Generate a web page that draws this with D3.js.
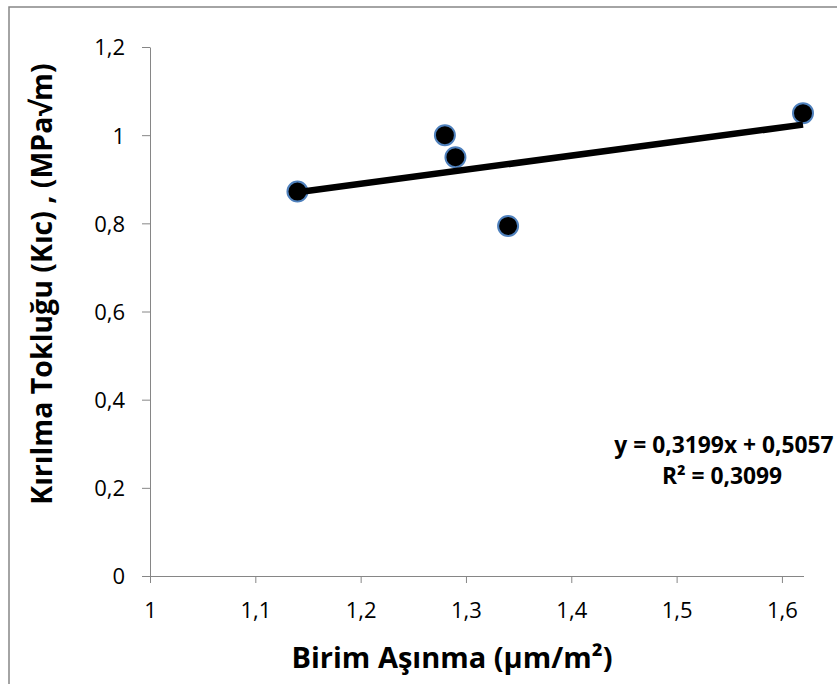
<!DOCTYPE html>
<html>
<head>
<meta charset="utf-8">
<script src="https://cdn.jsdelivr.net/npm/d3@7"></script>
<style>
  body { margin: 0; background: #fff; }
  svg text { font-family: "Open Sans", Lato, sans-serif; }
</style>
</head>
<body>
<svg id="chart" width="837" height="684"></svg>
<script>
// data
const wearValues = [1.14, 1.28, 1.29, 1.34, 1.62];
const toughnessValues = [0.872, 1.0, 0.95, 0.794, 1.05];
const xTicks = [1, 1.1, 1.2, 1.3, 1.4, 1.5, 1.6];
const yTicks = [0, 0.2, 0.4, 0.6, 0.8, 1, 1.2];
const trendSlope = 0.3199;
const trendIntercept = 0.5057;
const equationText = "y = 0,3199x + 0,5057";
const r2Text = "R² = 0,3099";

const points = wearValues.map((x, i) => ({ x: x, y: toughnessValues[i] }));

const svg = d3.select('#chart');
const axisColor = '#868686';
const fmt = d => String(d).replace('.', ',');

// outer chart border
svg.append('rect')
    .attr('x', 9).attr('y', 7)
    .attr('width', 840).attr('height', 690)
    .attr('fill', 'none')
    .attr('stroke', axisColor)
    .attr('stroke-width', 1.5);

const xscale = d3.scaleLinear().domain([1, 1.62]).range([150, 803]);
const yscale = d3.scaleLinear().domain([0, 1.2]).range([576, 47]);

// x axis
const xAxis = svg.append('g')
    .attr('transform', `translate(0, ${yscale(0)})`)
    .call(d3.axisBottom(xscale).tickValues(xTicks).tickFormat(fmt).tickSize(7).tickSizeOuter(0));
xAxis.select('.domain').attr('stroke', axisColor).attr('d', `M142,0.5H${xscale(1.62) + 1}`);
xAxis.selectAll('.tick line').attr('stroke', axisColor);
xAxis.selectAll('.tick text')
    .attr('fill', '#000')
    .attr('y', 26)
    .attr('dy', '0.72em')
    .style('font-size', '22px');

// y axis
const yAxis = svg.append('g')
    .attr('transform', `translate(${xscale(1)}, 0)`)
    .call(d3.axisLeft(yscale).tickValues(yTicks).tickFormat(fmt).tickSize(8).tickSizeOuter(0));
yAxis.select('.domain').attr('stroke', axisColor);
yAxis.selectAll('.tick line').attr('stroke', axisColor);
yAxis.selectAll('.tick text')
    .attr('fill', '#000')
    .attr('x', -25)
    .attr('dy', '0.36em')
    .style('font-size', '22px');

// markers
svg.append('g').selectAll('circle')
    .data(points)
    .enter()
    .append('circle')
    .attr('cx', d => xscale(d.x))
    .attr('cy', d => yscale(d.y))
    .attr('r', 10)
    .attr('fill', '#000')
    .attr('stroke', '#4f81bd')
    .attr('stroke-width', 2);

// linear trend line
const xMin = d3.min(wearValues), xMax = d3.max(wearValues);
svg.append('line')
    .attr('x1', xscale(xMin)).attr('y1', yscale(trendSlope * xMin + trendIntercept))
    .attr('x2', xscale(xMax)).attr('y2', yscale(trendSlope * xMax + trendIntercept))
    .attr('stroke', '#000')
    .attr('stroke-width', 6.5);

// equation label
svg.append('text')
    .attr('x', 724).attr('y', 453)
    .attr('text-anchor', 'middle')
    .style('font-size', '22.8px').style('font-weight', 'bold')
    .text(equationText);
svg.append('text')
    .attr('x', 722).attr('y', 484)
    .attr('text-anchor', 'middle')
    .style('font-size', '22.8px').style('font-weight', 'bold')
    .text(r2Text);

// axis titles
svg.append('text')
    .attr('x', 452).attr('y', 668)
    .attr('text-anchor', 'middle')
    .style('font-size', '29px').style('font-weight', 'bold')
    .text('Birim Aşınma (µm/m²)');

svg.append('text')
    .attr('transform', 'translate(52, 284) rotate(-90)')
    .attr('text-anchor', 'middle')
    .style('font-size', '28.5px').style('font-weight', 'bold')
    .text('Kırılma Tokluğu (Kıc) , (MPa√m)');
</script>
</body>
</html>
